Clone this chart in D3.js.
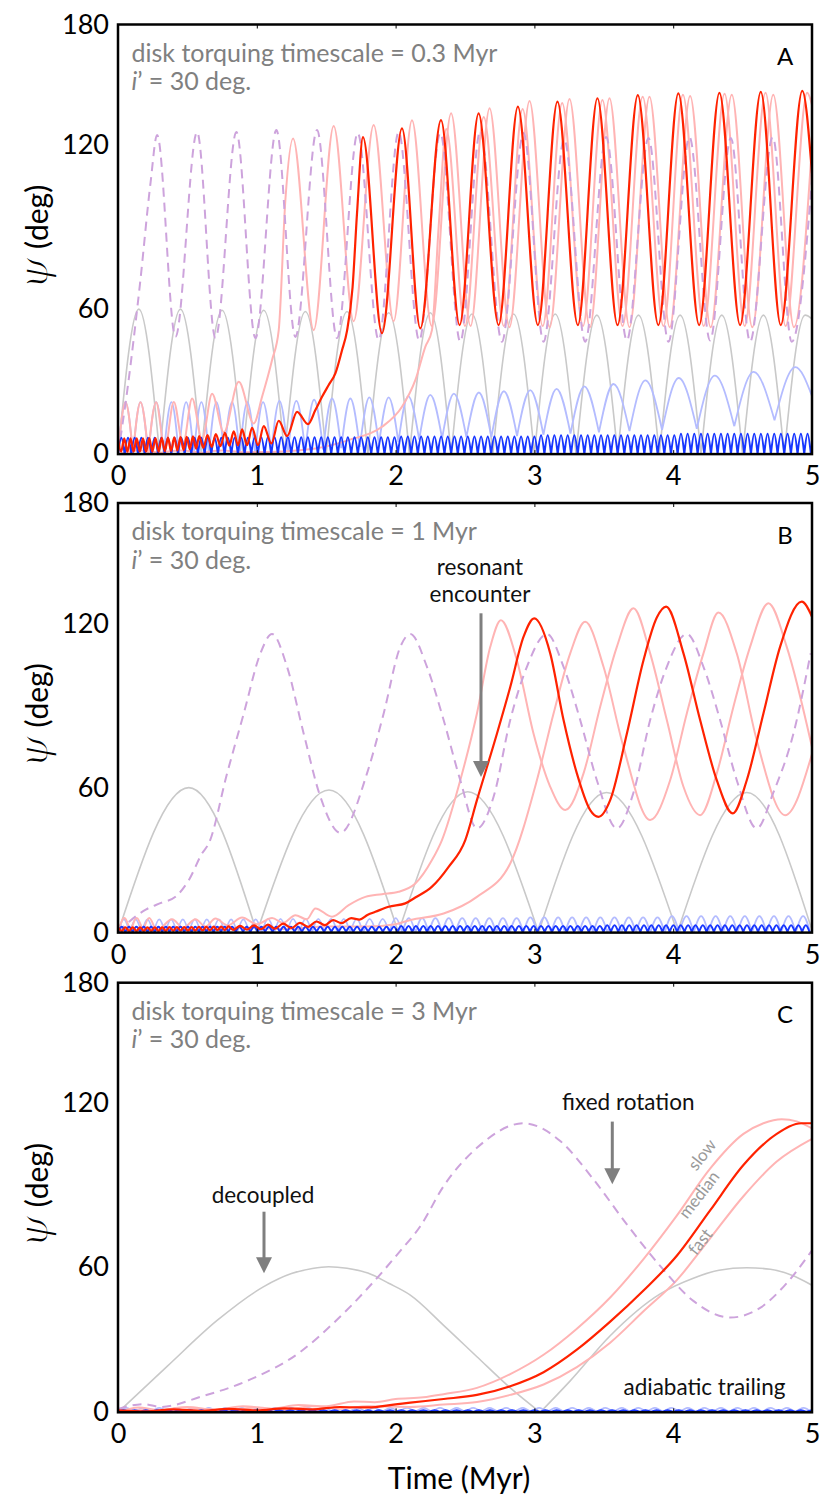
<!DOCTYPE html>
<html>
<head>
<meta charset="utf-8">
<title>Spin-orbit angle vs time</title>
<script src="https://d3js.org/d3.v7.min.js"></script>
<style>
  body { margin: 0; background: #fff; }
  svg text { font-family: Lato, 'Open Sans', sans-serif; }
</style>
</head>
<body>
<svg id="chart" width="831" height="1505"></svg>
<script>
// ---------- data (time in Myr, psi in deg) ----------
var years = [0, 1, 2, 3, 4, 5];
var psiTicks = [0, 60, 120, 180];
var panelLetters = ["A", "B", "C"];
var timescales = ["0.3", "1", "3"];

// regularly sampled series: values read at fixed time steps
function grid(t0, dt, values) {
  return values.map(function (v, i) { return [t0 + dt * i, v]; });
}

// ---- panel A ----
var greyA = [[0,0],[0.15,60],[0.3,0],[0.45,60],[0.6,0],[0.75,59.5],[0.9,0],[1.05,59.5],[1.2,0],[1.35,59],[1.5,0],[1.65,59],[1.8,0],[1.95,58.5],[2.1,0],[2.25,58.5],[2.4,0],[2.55,58],[2.7,0],[2.85,58],[3,0],[3.15,58],[3.3,0],[3.45,57.5],[3.6,0],[3.75,57.5],[3.9,0],[4.05,57.5],[4.2,0],[4.35,57.5],[4.5,0],[4.65,57.5],[4.8,0],[4.95,57.5],[5,56]];

var lightBlueA = [[0,0],[0.054,21.5],[0.108,0],[0.162,21.5],[0.218,0],[0.275,21.5],[0.33,0],[0.385,21.5],[0.438,0],[0.491,21.5],[0.546,0],[0.601,21.5],[0.655,0],[0.709,21.5],[0.765,0],[0.822,21.5],[0.877,0],[0.932,21.5],[0.988,0],[1.045,21.5],[1.104,0.5],[1.163,22],[1.224,1],[1.285,22],[1.349,1.5],[1.413,22.5],[1.478,2],[1.542,23],[1.608,2.5],[1.674,23],[1.742,3],[1.811,23.5],[1.88,4],[1.95,23.5],[2.02,5],[2.091,24],[2.17,6],[2.25,24.5],[2.335,6.5],[2.42,25],[2.51,7],[2.6,25.5],[2.69,7],[2.78,26],[2.875,7.5],[2.97,26.5],[3.065,8],[3.16,27],[3.26,8.5],[3.36,28],[3.465,9],[3.57,29],[3.685,9.5],[3.8,30.5],[3.92,10],[4.04,31.5],[4.17,10.5],[4.3,32.5],[4.44,11.5],[4.58,34],[4.73,14],[4.88,36],[5,24]];

var darkBlueA = grid(0, 0.024, [
  0,6.8,0,6.8,0,6.8,0,6.8,0,6.8,0,6.8,0,6.8,
  0,6.8,0,6.8,0,6.8,0,6.8,0,6.8,0,6.8,0,6.8,
  0,6.8,0,6.8,0,6.8,0,6.8,0,6.8,0,6.8,0,6.8,
  0,7,0,7,0,7,0,7,0,7,0,7,0,7,
  0,7,0,7,0,7,0,7,0,7,0,7,0,7,
  0,7,0,7,0,7,0,7,0,7,0,7,0,7,
  0,7.3,0,7.3,0,7.3,0,7.3,0,7.3,0,7.3,0,7.3,
  0,7.3,0,7.3,0,7.3,0,7.3,0,7.3,0,7.3,0,7.3,
  0,7.3,0,7.3,0,7.3,0,7.3,0,7.3,0,7.3,0,7.3,
  0,7.8,0,7.8,0,7.8,0,7.8,0,7.8,0,7.8,0,7.8,
  0,7.8,0,7.8,0,7.8,0,7.8,0,7.8,0,7.8,0,7.8,
  0,7.8,0,7.8,0,7.8,0,7.8,0,7.8,0,7.8,0,7.8,
  0,8.4,0,8.4,0,8.4,0,8.4,0,8.4,0,8.4,0,8.4,
  0,8.4,0,8.4,0,8.4,0,8.4,0,8.4,0,8.4,0,8.4,
  0,8.4,0,8.4,0,8.4,0,8.4,0,8.4,0,8.4,
  0
]);

var dashedA = [[0,0],[0.066,26],[0.16,70],[0.234,106],[0.282,125],[0.414,48.5],[0.57,126.5],[0.702,48],[0.853,126.5],[0.99,48],[1.141,127.5],[1.278,48.5],[1.434,127.5],[1.578,48],[1.727,126],[1.878,47.2],[2.022,126.5],[2.17,47],[2.322,126],[2.466,46.5],[2.61,127],[2.766,46.5],[2.922,126],[3.066,46.5],[3.215,123],[3.366,46.5],[3.517,124],[3.666,47],[3.822,123.5],[3.966,46.5],[4.117,124],[4.266,47],[4.415,123.5],[4.554,46.5],[4.717,124],[4.854,46.5],[5,107]];

var pinkFastA = [[0,0],[0.054,21.5],[0.108,0],[0.162,21.5],[0.218,0.5],[0.275,21.5],[0.337,2],[0.402,21.6],[0.469,4],[0.534,23],[0.606,6],[0.678,25],[0.762,9],[0.87,29.9],[0.978,12.7],[1.038,23.7],[1.11,38.9],[1.158,51.3],[1.206,100],[1.261,123.3],[1.41,51.3],[1.554,129.5],[1.698,55],[1.842,130],[1.986,55],[2.118,132.4],[2.26,53],[2.4,135.8],[2.54,53],[2.677,138.3],[2.82,52.5],[2.965,142],[3.11,52.5],[3.253,142.9],[3.4,52.5],[3.541,143.3],[3.685,52.5],[3.829,144],[3.975,52.5],[4.122,144.4],[4.27,52.5],[4.422,145],[4.57,52.5],[4.721,145],[4.87,52.5],[5,120]];

var pinkSlowA = [[0,0],[0.15,1.5],[0.3,0.5],[0.45,1.5],[0.6,0.5],[0.75,1.5],[0.9,0.8],[1.134,1],[1.422,2.3],[1.662,5.8],[1.902,11.3],[2.046,19.6],[2.142,30.6],[2.214,44.4],[2.262,51.3],[2.31,90],[2.365,128],[2.5,53],[2.635,134],[2.78,53],[2.915,138],[3.06,53],[3.2,141],[3.35,53],[3.49,142.5],[3.635,53],[3.78,144],[3.93,53],[4.07,145],[4.22,53],[4.37,145.5],[4.515,53],[4.665,146],[4.81,53],[4.965,146],[5,140]];

var redA = [[0,6.5],[0.0225,1],[0.045,6.5],[0.0675,1],[0.09,6.5],[0.1125,1],[0.135,6.5],[0.1575,1],[0.18,6.5],[0.2025,1],[0.225,6.6],[0.2475,1],[0.27,6.6],[0.2925,1],[0.315,6.7],[0.3375,1.2],[0.36,6.8],[0.3825,1.3],[0.405,6.9],[0.4275,1.5],[0.45,7],[0.4725,1.7],[0.495,7.1],[0.5175,2],[0.54,7.3],[0.5625,2.3],[0.585,7.5],[0.615,2.6],[0.645,7.9],[0.675,3],[0.705,8.3],[0.738,3.3],[0.77,8.8],[0.802,3.5],[0.834,9.4],[0.865,3.6],[0.894,10.2],[0.93,3.7],[0.966,10.9],[1.009,3.7],[1.05,11.6],[1.105,4.4],[1.158,13.8],[1.218,7.4],[1.29,17.5],[1.369,12.4],[1.422,18.2],[1.47,23.7],[1.518,28.6],[1.566,33.4],[1.614,43],[1.65,51],[1.69,68],[1.722,95],[1.765,124],[1.902,50],[2.046,128.3],[2.178,52],[2.327,132.4],[2.461,53.4],[2.598,135.8],[2.742,53.4],[2.881,139.1],[3.025,53.4],[3.166,141.6],[3.313,53.4],[3.454,143.3],[3.599,53.4],[3.745,144.9],[3.893,53.4],[4.037,145.7],[4.187,53.4],[4.333,146],[4.482,53.4],[4.631,146.5],[4.775,53.4],[4.93,147],[5,109.6]];

// ---- panel B ----
var greyB = [[0,0],[0.51,60],[1,0],[1.52,59],[2.02,0],[2.52,58.3],[3.03,0],[3.52,58],[4.03,0],[4.53,58],[5,1]];

var lightBlueB = [[0,0],[0.042,5.5],[0.085,0],[0.127,5.5],[0.17,0],[0.212,5.5],[0.255,0],[0.297,5.5],[0.34,0],[0.382,5.5],[0.425,0],[0.467,5.5],[0.51,0],[0.553,5.5],[0.596,0],[0.64,5.5],[0.683,0],[0.727,5.5],[0.771,0],[0.815,5.5],[0.859,0],[0.903,5.5],[0.947,0],[0.992,5.5],[1.036,0],[1.081,5.7],[1.126,0],[1.171,5.7],[1.216,0],[1.261,5.7],[1.306,0],[1.352,5.7],[1.397,0],[1.443,5.7],[1.489,0],[1.535,5.7],[1.581,0],[1.627,5.7],[1.673,0],[1.72,5.7],[1.766,0],[1.813,5.7],[1.86,0],[1.907,5.7],[1.954,0],[2.001,6],[2.048,0],[2.096,6],[2.143,0],[2.191,6],[2.239,0],[2.287,6],[2.335,0],[2.383,6],[2.431,0],[2.48,6],[2.528,0],[2.577,6],[2.626,0],[2.675,6],[2.724,0],[2.773,6],[2.822,0],[2.872,6],[2.921,0],[2.971,6.3],[3.021,0],[3.071,6.3],[3.121,0],[3.171,6.3],[3.221,0],[3.272,6.3],[3.322,0],[3.373,6.3],[3.424,0],[3.475,6.3],[3.526,0],[3.577,6.3],[3.628,0],[3.68,6.3],[3.731,0],[3.783,6.3],[3.835,0],[3.887,6.3],[3.939,0],[3.991,6.8],[4.043,0],[4.096,6.8],[4.148,0],[4.201,6.8],[4.253,0],[4.306,6.8],[4.358,0],[4.411,6.8],[4.463,0],[4.516,6.8],[4.568,0],[4.621,6.8],[4.673,0],[4.726,6.8],[4.778,0],[4.831,6.8],[4.883,0],[4.936,6.8],[4.988,0]];

var darkBlueB = grid(0, 0.0265, [
  0.3,2.4,0.3,2.4,0.3,2.4,0.3,2.4,0.3,2.4,0.3,2.4,0.3,2.4,
  0.3,2.4,0.3,2.4,0.3,2.4,0.3,2.4,0.3,2.4,0.3,2.4,0.3,2.4,
  0.3,2.4,0.3,2.4,0.3,2.4,0.3,2.4,0.3,2.4,0.3,2.4,0.3,2.4,
  0.3,2.4,0.3,2.4,0.3,2.4,0.3,2.4,0.3,2.4,0.3,2.4,0.3,2.4,
  0.3,2.4,0.3,2.4,0.3,2.4,0.3,2.4,0.3,2.4,0.3,2.4,0.3,2.4,
  0.3,2.4,0.3,2.4,0.3,2.4,
  0.3,2.7,0.3,2.7,0.3,2.7,0.3,2.7,0.3,2.7,0.3,2.7,0.3,2.7,
  0.3,2.7,0.3,2.7,0.3,2.7,0.3,2.7,0.3,2.7,0.3,2.7,0.3,2.7,
  0.3,2.7,0.3,2.7,0.3,2.7,0.3,2.7,0.3,2.7,0.3,2.7,0.3,2.7,
  0.3,2.7,0.3,2.7,0.3,2.7,0.3,2.7,0.3,2.7,0.3,2.7,0.3,2.7,
  0.3,3,0.3,3,0.3,3,0.3,3,0.3,3,0.3,3,0.3,3,
  0.3,3,0.3,3,0.3,3,0.3,3,0.3,3,0.3,3,0.3,3,
  0.3,3,0.3,3,0.3,3,0.3,3,0.3,3,0.3,3,0.3,3,
  0.3,3,0.3,3,0.3,3,0.3,3,0.3,3,0.3,3,0.3,3,
  0.3
]);

var dashedB = [[0,0],[0.08,4.5],[0.2,9.5],[0.31,12.3],[0.414,14.8],[0.51,21.7],[0.606,32.8],[0.654,36.9],[0.786,65.2],[0.906,87.1],[1.026,109.1],[1.11,116.2],[1.218,104.2],[1.338,79.7],[1.458,56.2],[1.602,41.3],[1.794,65.2],[1.914,87.1],[2.034,111.5],[2.106,116.2],[2.226,104.2],[2.346,84.7],[2.466,62.7],[2.586,43.1],[2.706,56.2],[2.826,84.7],[2.946,104.2],[3.09,116.2],[3.21,104.2],[3.33,84.7],[3.45,62.7],[3.594,43.1],[3.714,58],[3.834,84.7],[3.954,104.2],[4.098,116.2],[4.218,104.2],[4.338,84.7],[4.458,62.7],[4.602,43.1],[4.722,58],[4.866,79.7],[4.99,109.1]];

var pinkFastB = [[0,0],[0.045,6],[0.09,0],[0.135,6],[0.18,0.5],[0.225,6],[0.28,1],[0.39,5.5],[0.47,2],[0.558,5.5],[0.63,2.5],[0.702,5.8],[0.79,3],[0.894,6.2],[1,3.5],[1.11,6],[1.19,4],[1.278,7.2],[1.36,5.5],[1.422,10],[1.542,6.6],[1.662,11.4],[1.782,14.8],[1.902,15.9],[2.022,16.9],[2.142,20.3],[2.262,30],[2.334,38.3],[2.466,62.7],[2.586,87.1],[2.682,111.5],[2.759,121.7],[2.874,106.6],[2.994,79.7],[3.114,60.3],[3.222,50.7],[3.354,65.2],[3.474,89.6],[3.594,111.5],[3.714,127.6],[3.834,109.1],[3.954,84.7],[4.074,60.3],[4.194,48.6],[4.314,65.2],[4.434,89.6],[4.554,111.5],[4.686,130.1],[4.818,111.5],[5,74.8]];

var pinkSlowB = [[0,0],[0.3,1.5],[0.6,1],[0.9,2],[1.2,1.5],[1.5,2.5],[1.8,2.5],[2,3.5],[2.106,5.2],[2.346,7.9],[2.586,14.8],[2.826,28.6],[3.018,62.7],[3.138,87.1],[3.258,109.1],[3.366,120.9],[3.498,104.2],[3.642,74.8],[3.834,46.6],[3.978,62.7],[4.098,87.1],[4.218,109.1],[4.326,125.5],[4.458,109.1],[4.602,77.3],[4.806,48.6],[5,72.3]];

var redB = [[0,2.2],[0.027,0.7],[0.053,2.2],[0.08,0.7],[0.106,2.2],[0.133,0.7],[0.159,2.2],[0.186,0.7],[0.212,2.2],[0.239,0.7],[0.265,2.2],[0.292,0.7],[0.318,2.2],[0.345,0.7],[0.371,2.3],[0.398,0.7],[0.424,2.3],[0.451,0.8],[0.477,2.3],[0.504,0.8],[0.53,2.3],[0.557,0.8],[0.583,2.4],[0.61,0.9],[0.636,2.4],[0.663,0.9],[0.69,2.5],[0.716,1],[0.743,2.5],[0.77,1],[0.796,2.6],[0.83,1.1],[0.88,2.8],[0.93,1.2],[0.98,3],[1.03,1.4],[1.08,3.3],[1.13,1.6],[1.19,3.7],[1.25,1.9],[1.31,4],[1.37,2.4],[1.43,4.6],[1.49,3.1],[1.55,5.2],[1.61,3.9],[1.68,6],[1.74,5.4],[1.8,7.4],[1.854,8.6],[1.95,10.7],[2.07,12.1],[2.142,14.5],[2.262,19],[2.382,27.2],[2.502,38.3],[2.586,54.8],[2.73,79.7],[2.826,96.8],[2.922,115.2],[2.999,122.6],[3.114,109.1],[3.21,84.7],[3.306,65.2],[3.402,50.7],[3.462,47.9],[3.546,54.8],[3.666,79.7],[3.786,106.6],[3.882,123],[3.949,128.4],[4.074,109.1],[4.194,84.7],[4.314,62.7],[4.429,49.3],[4.53,62.7],[4.65,87.1],[4.77,111.5],[4.926,130.9],[5,123.4]];

// ---- panel C ----
var greyC = [[0,0],[0.354,19],[0.714,38],[1.05,52],[1.25,57.4],[1.4,59.5],[1.518,60.2],[1.65,59.6],[1.8,57.6],[1.95,53.4],[2.106,48.5],[2.346,36],[2.586,23],[2.826,10.1],[3.042,0],[3.258,13],[3.546,31.7],[3.906,49],[4.145,55.5],[4.33,58.8],[4.53,59.8],[4.7,59.2],[4.85,56.8],[5,52.6]];

var lightBlueC = grid(0, 0.0595, [
  0,1.8,0,1.8,0,1.8,0,1.8,0,1.8,0,1.8,0,1.8,
  0,1.8,0,1.8,0,1.8,0,1.8,0,1.8,0,1.8,0,1.8,
  0,1.8,0,1.8,0,1.8,0,1.8,0,1.8,0,1.8,0,1.8,
  0,1.8,0,1.8,0,1.8,0,1.8,0,1.8,0,1.8,0,1.8,
  0,1.8,0,1.8,0,1.8,0,1.8,0,1.8,0,1.8,0,1.8,
  0,1.8,0,1.8,0,1.8,0,1.8,0,1.8,0,1.8,0,1.8,
  0
]);

var darkBlueC = grid(0, 0.04, [
  0.2,0.9,0.2,0.9,0.2,0.9,0.2,0.9,0.2,0.9,0.2,0.9,0.2,0.9,
  0.2,0.9,0.2,0.9,0.2,0.9,0.2,0.9,0.2,0.9,0.2,0.9,0.2,0.9,
  0.2,0.9,0.2,0.9,0.2,0.9,0.2,0.9,0.2,0.9,0.2,0.9,0.2,0.9,
  0.2,0.9,0.2,0.9,0.2,0.9,0.2,0.9,0.2,0.9,0.2,0.9,0.2,0.9,
  0.2,0.9,0.2,0.9,0.2,0.9,0.2,0.9,0.2,0.9,0.2,0.9,0.2,0.9,
  0.2,0.9,0.2,0.9,0.2,0.9,0.2,0.9,0.2,0.9,0.2,0.9,0.2,0.9,
  0.2,0.9,0.2,0.9,0.2,0.9,0.2,0.9,0.2,0.9,0.2,0.9,0.2,0.9,
  0.2,0.9,0.2,0.9,0.2,0.9,0.2,0.9,0.2,0.9,0.2,0.9,0.2,0.9,
  0.2,0.9,0.2,0.9,0.2,0.9,0.2,0.9,0.2,0.9,0.2,0.9,0.2,0.9
]);

var dashedC = [[0,1.4],[0.188,3.4],[0.306,2.2],[0.6,6.5],[0.95,13.5],[1.314,25],[1.554,37],[1.794,51],[2.034,66],[2.178,75],[2.346,89.7],[2.586,103.7],[2.922,112.7],[3.186,106.2],[3.425,92.2],[3.666,75.7],[3.906,60.5],[4.145,46.1],[4.41,39.2],[4.626,43.2],[4.794,51.9],[5,66.2]];

var pinkSlowC = [[0,0],[0.15,2],[0.3,0.5],[0.5,2.2],[0.7,1],[0.9,2.5],[1.1,1.5],[1.3,3],[1.5,2.5],[1.7,4.5],[1.85,4.2],[2,5.5],[2.2,6.2],[2.346,7.5],[2.586,10.1],[2.826,15.8],[3.066,23.8],[3.306,34.6],[3.546,47.5],[3.786,63],[4.026,78.9],[4.266,96.1],[4.506,108.8],[4.65,112.7],[4.782,114.2],[4.89,113.4],[5,110.8]];

var pinkFastC = [[0,0],[0.2,1],[0.4,0.5],[0.6,1.5],[0.8,0.8],[1,2],[1.2,1],[1.4,2.5],[1.6,1.5],[1.8,2.5],[2.106,2.2],[2.346,3.2],[2.586,4.3],[2.826,7.2],[3.066,11.5],[3.306,18.7],[3.546,28.8],[3.786,41.8],[4.026,54.7],[4.266,70.6],[4.506,86],[4.746,98.7],[5,107]];

var redC = [[0,0.8],[0.2,0.4],[0.4,1.2],[0.6,0.6],[0.8,1.4],[1,0.8],[1.2,1.6],[1.4,1.2],[1.6,2.2],[1.8,2],[2,3.3],[2.106,4],[2.346,5.5],[2.586,7.2],[2.826,10.8],[3.066,16.6],[3.306,25.9],[3.546,37.5],[3.786,50.4],[4.026,64.2],[4.266,80.8],[4.506,97.4],[4.746,108.8],[4.926,112.7],[5,112.7]];

// ---------- layout ----------
var panels = [
  { grey: greyA, lightBlue: lightBlueA, pinkSlow: pinkSlowA, pinkFast: pinkFastA, dashed: dashedA, darkBlue: darkBlueA, red: redA },
  { grey: greyB, lightBlue: lightBlueB, pinkSlow: pinkSlowB, pinkFast: pinkFastB, dashed: dashedB, darkBlue: darkBlueB, red: redB },
  { grey: greyC, lightBlue: lightBlueC, pinkSlow: pinkSlowC, pinkFast: pinkFastC, dashed: dashedC, darkBlue: darkBlueC, red: redC }
];

var left = 118, right = 812;
var panelTop = [24.5, 503, 982.7];
var panelH = 429.6;

// draw order and style of each series; cusp = split at local minima at or below this value
var layers = [
  { key: "grey",      stroke: "#c9c9c9", width: 1.6, cusp: Infinity },
  { key: "lightBlue", stroke: "#b4bcff", width: 1.8, cusp: Infinity },
  { key: "pinkSlow",  stroke: "#ffb4b4", width: 2,   cusp: 0.6 },
  { key: "pinkFast",  stroke: "#ffb4b4", width: 2,   cusp: 0.6 },
  { key: "dashed",    stroke: "#cda3dc", width: 2,   cusp: -1, dash: "9,6" },
  { key: "darkBlue",  stroke: "#1736ff", width: 2,   cusp: Infinity },
  { key: "red",       stroke: "#ff2200", width: 2.2, cusp: -1 }
];

var svg = d3.select("#chart");
svg.append("rect").attr("width", 831).attr("height", 1505).attr("fill", "#fff");

var x = d3.scaleLinear().domain([0, 5]).range([left, right]);

function cuspPath(line, pts, limit) {
  var d = "", start = 0;
  for (var i = 1; i < pts.length - 1; i++) {
    var v = pts[i][1];
    if (v <= limit && v < pts[i - 1][1] && v < pts[i + 1][1]) {
      d += line(pts.slice(start, i + 1));
      start = i;
    }
  }
  return d + line(pts.slice(start));
}

function arrow(g, ax, y0, y1) {
  g.append("line").attr("x1", ax).attr("x2", ax).attr("y1", y0).attr("y2", y1 - 12)
    .attr("stroke", "#7f7f7f").attr("stroke-width", 3);
  g.append("path")
    .attr("d", "M" + ax + "," + y1 + "L" + (ax - 8) + "," + (y1 - 16) + "L" + (ax + 8) + "," + (y1 - 16) + "Z")
    .attr("fill", "#7f7f7f");
}

panels.forEach(function (p, i) {
  var top = panelTop[i], bottom = top + panelH;
  // tick labels on this figure are not evenly spaced, so the scale is piecewise
  var y = d3.scaleLinear().domain(psiTicks).range([bottom, bottom - 145, bottom - 309, top]);
  var g = svg.append("g");

  g.append("clipPath").attr("id", "clip" + i).append("rect")
    .attr("x", left).attr("y", top).attr("width", right - left).attr("height", panelH);

  var line = d3.line()
    .x(function (d) { return x(d[0]); })
    .y(function (d) { return y(d[1]); })
    .curve(d3.curveMonotoneX);

  var plot = g.append("g").attr("clip-path", "url(#clip" + i + ")");
  layers.forEach(function (l) {
    plot.append("path")
      .attr("d", cuspPath(line, p[l.key], l.cusp))
      .attr("fill", "none")
      .attr("stroke", l.stroke)
      .attr("stroke-width", l.width)
      .attr("stroke-linejoin", "round")
      .attr("stroke-dasharray", l.dash || null);
  });

  // axes
  var gx = g.append("g").attr("transform", "translate(0," + bottom + ")")
    .call(d3.axisBottom(x).tickValues(years).tickFormat(d3.format("d"))
      .tickSizeInner(-4).tickSizeOuter(0).tickPadding(12));
  gx.select(".domain").remove();
  gx.attr("font-family", "Lato, sans-serif").attr("font-size", 27);
  gx.selectAll("text").attr("fill", "#000");

  var gt = g.append("g").attr("transform", "translate(0," + top + ")")
    .call(d3.axisTop(x).tickValues(years).tickFormat("").tickSizeInner(-4).tickSizeOuter(0));
  gt.select(".domain").remove();

  var gy = g.append("g").attr("transform", "translate(" + left + ",0)")
    .call(d3.axisLeft(y).tickValues(psiTicks).tickSize(0).tickPadding(9));
  gy.select(".domain").remove();
  gy.attr("font-family", "Lato, sans-serif").attr("font-size", 27);
  gy.selectAll("text").attr("fill", "#000");

  g.append("rect")
    .attr("x", left).attr("y", top).attr("width", right - left).attr("height", panelH)
    .attr("fill", "none").attr("stroke", "#000").attr("stroke-width", 2.5);

  // y label (thin psi: white outline trims the heavy italic glyph)
  var yl = g.append("text")
    .attr("transform", "translate(48," + ((top + bottom) / 2 - 2) + ") rotate(-90)")
    .attr("text-anchor", "middle").attr("fill", "#000");
  yl.append("tspan").attr("font-family", "'DejaVu Serif', serif")
    .attr("font-style", "italic").attr("font-size", 42)
    .attr("stroke", "#fff").attr("stroke-width", 1.6).text("ψ");
  yl.append("tspan").attr("font-size", 30).text(" (deg)");

  // panel notes
  g.append("text").attr("x", 131.5).attr("y", top + 37.2)
    .attr("font-size", 25).attr("fill", "#808080")
    .text("disk torquing timescale = " + timescales[i] + " Myr");
  var il = g.append("text").attr("x", 131.5).attr("y", top + 65.5)
    .attr("font-size", 25).attr("fill", "#808080");
  il.append("tspan").attr("font-style", "italic").text("i");
  il.append("tspan").text("’ = 30 deg.");

  g.append("text").attr("x", 785).attr("y", top + 40.7)
    .attr("text-anchor", "middle").attr("font-size", 24).attr("fill", "#000")
    .text(panelLetters[i]);

  if (i === 1) {
    g.append("text").attr("x", 480).attr("y", top + 72).attr("text-anchor", "middle")
      .attr("font-size", 22.5).attr("fill", "#111").text("resonant");
    g.append("text").attr("x", 480).attr("y", top + 98.7).attr("text-anchor", "middle")
      .attr("font-size", 22.5).attr("fill", "#111").text("encounter");
    arrow(g, 481, top + 110.3, top + 274);
  }

  if (i === 2) {
    g.append("text").attr("x", 263).attr("y", top + 220).attr("text-anchor", "middle")
      .attr("font-size", 22.5).attr("fill", "#111").text("decoupled");
    arrow(g, 264, top + 229, top + 290.6);

    g.append("text").attr("x", 628.3).attr("y", top + 127.4).attr("text-anchor", "middle")
      .attr("font-size", 22.5).attr("fill", "#111").text("fixed rotation");
    arrow(g, 612.3, top + 138.9, top + 201.6);

    g.append("text").attr("x", 704.5).attr("y", top + 412.2).attr("text-anchor", "middle")
      .attr("font-size", 22.5).attr("fill", "#111").text("adiabatic trailing");

    [["slow", 702, 172], ["median", 699, 212], ["fast", 700, 259]].forEach(function (s) {
      g.append("text")
        .attr("transform", "translate(" + s[1] + "," + (top + s[2]) + ") rotate(-52)")
        .attr("text-anchor", "middle").attr("dy", "0.35em")
        .attr("font-size", 17).attr("fill", "#9a9a9a").text(s[0]);
    });
  }
});

svg.append("text").attr("x", 459).attr("y", 1489).attr("text-anchor", "middle")
  .attr("font-size", 30).attr("fill", "#000").text("Time (Myr)");
</script>
</body>
</html>
